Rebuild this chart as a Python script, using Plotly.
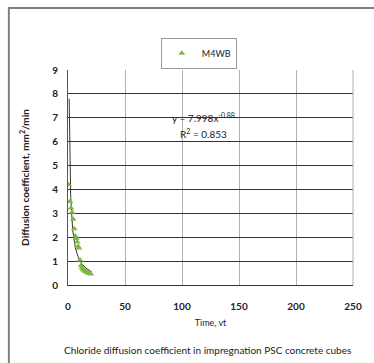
import numpy as np
import plotly.graph_objects as go

# Measured diffusion coefficient (mm²/min) against time (√t)
time_vt = [0.5, 1.7, 2.6, 3.6, 4.6, 5.5, 6.4, 7.2, 8.1, 8.8, 9.5, 10.5,
           11.5, 12.3, 13.2, 14.1, 15.0, 16.0, 17.0, 18.0, 19.0, 20.0]
diff_coef = [4.2, 3.5, 3.22, 3.05, 2.75, 2.35, 2.05, 1.95, 1.8, 1.62, 1.55, 1.05,
             0.82, 0.72, 0.66, 0.62, 0.58, 0.55, 0.52, 0.50, 0.48, 0.46]

# Power trendline y = a * x^b
fit_a = 7.998
fit_b = -0.88
fit_r2 = 0.853

x_ticks = [0, 50, 100, 150, 200, 250]
y_ticks = [0, 1, 2, 3, 4, 5, 6, 7, 8, 9]

FONT = "Lato, 'Open Sans', sans-serif"
GREEN = "#7DB846"

trend_x = np.linspace(1.03, 21.0, 200)
trend_y = fit_a * trend_x ** fit_b

fig = go.Figure()
fig.add_trace(go.Scatter(
    x=trend_x, y=trend_y, mode="lines",
    line=dict(color="#333333", width=1),
    showlegend=False, hoverinfo="skip",
))
fig.add_trace(go.Scatter(
    x=time_vt, y=diff_coef, mode="markers", name="M4WB",
    marker=dict(symbol="triangle-up", size=6, color=GREEN),
))

fig.update_layout(
    width=374, height=363,
    margin=dict(l=68, r=12, t=70, b=78),
    paper_bgcolor="white", plot_bgcolor="white",
    font=dict(family=FONT, size=9, color="#222222"),
    showlegend=True,
    legend=dict(
        x=0.459, y=1.15, xanchor="center", yanchor="top",
        bordercolor="#9a9a9a", borderwidth=1, bgcolor="white",
        font=dict(family=FONT, size=9, color="#222222"),
        itemwidth=30, tracegroupgap=0,
    ),
    xaxis=dict(
        range=[0, 250], tickvals=x_ticks, ticks="",
        showgrid=True, gridcolor="#b0b0b0", gridwidth=1,
        showline=True, linecolor="#333333", linewidth=1, mirror=False,
        zeroline=False, ticklabelstandoff=12,
        tickfont=dict(family=FONT, size=10, color="#222222", weight="bold"),
        title=dict(text="Time, vt", standoff=8,
                   font=dict(family=FONT, size=9, color="#222222")),
    ),
    yaxis=dict(
        range=[0, 9], tickvals=y_ticks, ticks="",
        showgrid=True, gridcolor="#333333", gridwidth=1,
        showline=True, linecolor="#555555", linewidth=1,
        zeroline=False, ticklabelstandoff=7,
        tickfont=dict(family=FONT, size=10, color="#222222", weight="bold"),
        title=dict(text="Diffusion coefficient, mm<sup>2</sup>/min", standoff=20,
                   font=dict(family=FONT, size=10, color="#222222", weight="bold")),
    ),
    shapes=[
        # outer chart frame
        dict(type="rect", xref="paper", yref="paper",
             x0=-0.2075, x1=1.2, y0=-0.6, y1=1.288,
             line=dict(color="#808080", width=2), layer="below"),
        # right edge of plot area in light grey
        dict(type="line", xref="paper", yref="paper",
             x0=1, x1=1, y0=0, y1=1, line=dict(color="#b0b0b0", width=1)),
    ],
    annotations=[
        dict(text=f"y = {fit_a}x<sup>{fit_b}</sup>", x=0.476, y=7.0,
             xref="paper", yref="y", showarrow=False,
             font=dict(family=FONT, size=10, color="#222222")),
        dict(text=f"R<sup>2</sup> = {fit_r2}", x=0.476, y=6.35,
             xref="paper", yref="y", showarrow=False,
             font=dict(family=FONT, size=10, color="#222222")),
        dict(text="Chloride diffusion coefficient in impregnation PSC concrete cubes",
             x=0.49, y=-0.3, xref="paper", yref="paper", showarrow=False,
             yanchor="middle",
             font=dict(family=FONT, size=10, color="#222222")),
    ],
)

fig.write_html("out.html")
